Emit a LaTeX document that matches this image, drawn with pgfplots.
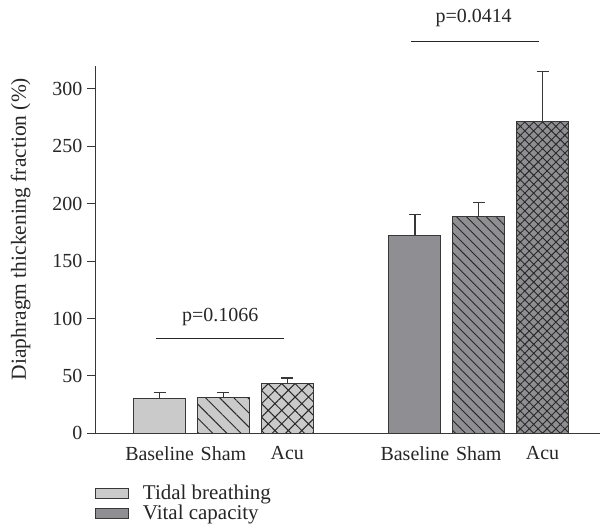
\documentclass[border=0pt]{standalone}
\usepackage{pgfplots}
\pgfplotsset{compat=1.18}
\usepackage{fontspec}
\setmainfont{Liberation Serif}
\usetikzlibrary{patterns.meta}
\definecolor{tidal}{RGB}{202,202,202}
\definecolor{vital}{RGB}{143,143,147}
\definecolor{edge}{RGB}{55,55,55}
\definecolor{patc}{RGB}{40,40,40}
\newcommand{\fs}{\fontsize{20}{22}\selectfont}
\newcommand{\fl}{\fontsize{21.5}{24}\selectfont}
\newcommand{\fg}{\fontsize{21}{23}\selectfont}
\begin{document}
\begin{tikzpicture}
\begin{axis}[
  name=ax,
  scale only axis,
  width=505pt, height=368pt,
  xmin=0, xmax=7.9, ymin=0, ymax=320,
  axis lines=left,
  axis line style={-, edge, line width=1pt},
  clip=false,
  xtick={1,2,3,5,6,7},
  xticklabels={Baseline,Sham,Acu,Baseline,Sham,Acu},
  xtick style={draw=none},
  ytick={0,50,100,150,200,250,300},
  ytick style={edge, line width=1pt},
  tick align=outside,
  major tick length=9pt,
  /pgf/number format/assume math mode=true,
  tick label style={font=\fs, text=black!85},
  xticklabel style={yshift=-1pt},
  yticklabel style={xshift=-1pt},
  ylabel={Diaphragm thickening fraction (\%)},
  ylabel style={font=\fl, text=black!85, at={(axis description cs:-0.149,0.556)}, anchor=center, rotate=0},
  legend style={at={(axis description cs:-0.002,-0.138)}, anchor=north west, draw=none, fill=none, font=\fg, text=black!85, row sep=0pt, inner sep=0pt, nodes={inner sep=0pt, text height=15pt, text depth=5pt}, legend cell align=left},
  legend image code/.code={\draw[#1, line width=1pt] (0pt,-4.5pt) rectangle (33pt,5.5pt); \path (47pt,0pt);},
  every axis plot/.append style={bar shift=0pt, bar width=52pt, draw=edge, line width=1pt,
     error bars/y dir=plus, error bars/y explicit,
     error bars/error bar style={edge, line width=1.2pt},
     error bars/error mark options={rotate=90, mark size=6pt, edge, line width=1.2pt}},
]
% Tidal breathing - Baseline
\addplot[ybar, fill=tidal] coordinates {(1,30.4) +- (0,5.2)};
\addlegendentry{Tidal breathing}
% Vital capacity - Baseline
\addplot[ybar, fill=vital] coordinates {(5,172.2) +- (0,18.2)};
\addlegendentry{Vital capacity}
% Tidal - Sham
\addplot[ybar, forget plot, fill=tidal, postaction={pattern={Lines[angle=-45,distance=10pt,line width=1pt]}, pattern color=patc}] coordinates {(2,30.8) +- (0,4.8)};
% Tidal - Acu
\addplot[ybar, forget plot, fill=tidal, postaction={pattern={Hatch[angle=45,distance=9.5pt,line width=1pt]}, pattern color=patc}] coordinates {(3,43.2) +- (0,4.9)};
% Vital - Sham
\addplot[ybar, forget plot, fill=vital, postaction={pattern={Lines[angle=-45,distance=7pt,line width=0.9pt]}, pattern color=patc}] coordinates {(6,188.4) +- (0,12.8)};
% Vital - Acu
\addplot[ybar, forget plot, fill=vital, postaction={pattern={Hatch[angle=45,distance=6.3pt,line width=0.9pt]}, pattern color=patc}] coordinates {(7,271.3) +- (0,43.8)};
% significance lines
\addplot[forget plot, no marks, black!85, line width=1pt, error bars/y dir=none] coordinates {(0.95,82.6) (2.95,82.6)};
\addplot[forget plot, no marks, black!85, line width=1pt, error bars/y dir=none] coordinates {(4.94,341.1) (6.94,341.1)};
\node[font=\fs, text=black!85] at (axis cs:1.95,101.7) {p=0.1066};
\node[font=\fs, text=black!85] at (axis cs:5.92,361.7) {p=0.0414};
\end{axis}
\useasboundingbox ([xshift=-96pt,yshift=-98pt]ax.south west) rectangle ([xshift=5pt,yshift=66pt]ax.north east);
\end{tikzpicture}
\end{document}
